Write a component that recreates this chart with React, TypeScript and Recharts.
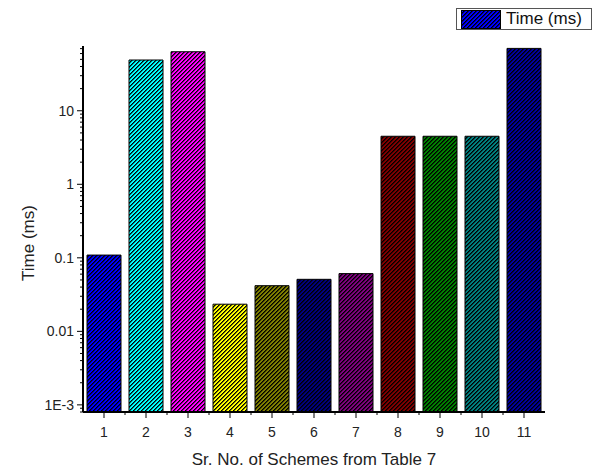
import { BarChart, Bar, Cell, XAxis, YAxis, Legend, Label } from "recharts";

const categories = ["1", "2", "3", "4", "5", "6", "7", "8", "9", "10", "11"];
const times = [0.109, 49, 63.5, 0.0234, 0.0418, 0.051, 0.061, 4.5, 4.5, 4.5, 70.5];
const barColors = [
  "#0000FF",
  "#00FFFF",
  "#FF00FF",
  "#FFFF00",
  "#808000",
  "#000080",
  "#800080",
  "#800000",
  "#008000",
  "#008080",
  "#0000A0",
];
const majorTicks = [0.001, 0.01, 0.1, 1, 10];
const majorLabels = ["1E-3", "0.01", "0.1", "1", "10"];

const Y_MIN = 0.0008;
const Y_MAX = 76;

const data = categories.map((name, i) => ({ name, time: times[i] }));

// minor ticks: 2..9 inside each decade, kept inside the domain
const minorTicks: number[] = [];
[0.0001, ...majorTicks].forEach((d) => {
  for (let k = 2; k <= 9; k++) {
    const v = +(d * k).toPrecision(3);
    if (v >= Y_MIN && v <= Y_MAX) minorTicks.push(v);
  }
});
const allYTicks = [...majorTicks, ...minorTicks].sort((a, b) => a - b);

const FONT = "'Liberation Sans', Arial, sans-serif";
const ROWS = [0, 1, 2, 3];

// pixel "/" hatching, 4px period
function Hatch({ id, color }: { id: string; color: string }) {
  return (
    <pattern id={id} patternUnits="userSpaceOnUse" width={4} height={4}>
      <rect width={4} height={4} fill={color} />
      {ROWS.map((r) => (
        <g key={r}>
          <rect x={3 - r} y={r} width={1} height={1} fill="#000" />
          <rect x={(4 - r) % 4} y={r} width={1} height={1} fill="#000" opacity={0.6} />
        </g>
      ))}
    </pattern>
  );
}

// eslint-disable-next-line @typescript-eslint/no-explicit-any
function YTick(props: any) {
  const { x, y, payload } = props;
  const idx = majorTicks.indexOf(payload.value);
  const major = idx >= 0;
  return (
    <g>
      <line x1={x - (major ? 6 : 3)} x2={x} y1={y} y2={y} stroke="#000" strokeWidth={1} />
      {major && (
        <text
          x={x - 9}
          y={y}
          textAnchor="end"
          dominantBaseline="central"
          fontSize={14}
          fontFamily={FONT}
          fill="#222"
        >
          {majorLabels[idx]}
        </text>
      )}
    </g>
  );
}

// eslint-disable-next-line @typescript-eslint/no-explicit-any
function XTick(props: any) {
  const { x, y, payload, index } = props;
  const half = payload.offset || 21;
  return (
    <g>
      <line x1={x} x2={x} y1={y} y2={y + 6} stroke="#000" strokeWidth={1} />
      {index > 0 && (
        <line x1={x - half} x2={x - half} y1={y} y2={y + 3} stroke="#000" strokeWidth={1} />
      )}
      <text x={x} y={y + 25} textAnchor="middle" fontSize={14} fontFamily={FONT} fill="#222">
        {payload.value}
      </text>
    </g>
  );
}

function LegendBox() {
  return (
    <div
      style={{
        width: 134,
        height: 20,
        border: "1px solid #555",
        display: "flex",
        alignItems: "center",
        fontFamily: FONT,
        fontSize: 17,
        color: "#111",
        background: "#fff",
      }}
    >
      <svg width={40} height={19} style={{ marginLeft: 4, marginRight: 5 }}>
        <defs>
          <Hatch id="hatch-legend" color={barColors[0]} />
        </defs>
        <rect x={0.5} y={0.5} width={39} height={18} fill="url(#hatch-legend)" stroke="#000" />
      </svg>
      <span>Time (ms)</span>
    </div>
  );
}

export default function App() {
  return (
    <div style={{ position: "absolute", left: 0, top: 0, background: "#fff" }}>
      <BarChart
        width={598}
        height={470}
        data={data}
        margin={{ top: 46, right: 53, left: 0, bottom: 0 }}
      >
        <defs>
          {barColors.map((c, i) => (
            <Hatch key={i} id={`hatch-${i}`} color={c} />
          ))}
        </defs>
        <XAxis
          dataKey="name"
          height={58}
          interval={0}
          tickSize={0}
          tickMargin={0}
          tickLine={false}
          tick={<XTick />}
          axisLine={{ stroke: "#000", strokeWidth: 2 }}
        >
          <Label
            content={() => (
              <text
                x={314}
                y={465}
                textAnchor="middle"
                fontSize={17}
                fontFamily={FONT}
                fill="#222"
              >
                Sr. No. of Schemes from Table 7
              </text>
            )}
          />
        </XAxis>
        <YAxis
          scale="log"
          type="number"
          domain={[Y_MIN, Y_MAX]}
          allowDataOverflow
          width={83}
          ticks={allYTicks}
          interval={0}
          tickSize={0}
          tickMargin={0}
          tickLine={false}
          tick={<YTick />}
          axisLine={{ stroke: "#000", strokeWidth: 2 }}
        >
          <Label
            content={() => (
              <text
                x={28}
                y={243}
                transform="rotate(-90 28 243)"
                textAnchor="middle"
                dominantBaseline="central"
                fontSize={17}
                fontFamily={FONT}
                fill="#222"
              >
                Time (ms)
              </text>
            )}
          />
        </YAxis>
        <Legend
          layout="horizontal"
          verticalAlign="middle"
          align="center"
          wrapperStyle={{ left: 456, top: 8, width: 136 }}
          content={() => <LegendBox />}
        />
        <Bar dataKey="time" barSize={34} stroke="#000" strokeWidth={1} isAnimationActive={false}>
          {data.map((_, i) => (
            <Cell key={i} fill={`url(#hatch-${i})`} />
          ))}
        </Bar>
      </BarChart>
    </div>
  );
}
